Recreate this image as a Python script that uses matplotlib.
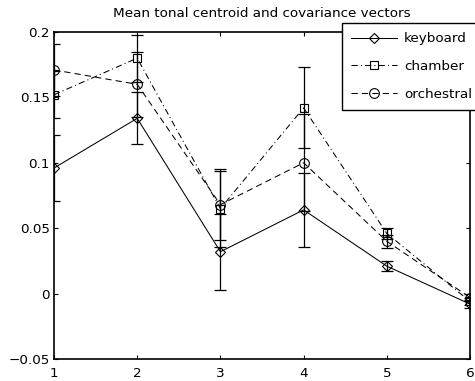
import matplotlib
matplotlib.use("Agg")
import matplotlib.pyplot as plt

plt.rcParams['font.family'] = ['DejaVu Sans']

x = [1, 2, 3, 4, 5, 6]
keyboard = [0.096, 0.134, 0.032, 0.064, 0.021, -0.008]
keyboard_err = [0.025, 0.020, 0.029, 0.028, 0.004, 0.003]
chamber = [0.152, 0.180, 0.065, 0.142, 0.046, -0.006]
chamber_err = [0.018, 0.018, 0.029, 0.031, 0.004, 0.003]
orchestral = [0.171, 0.160, 0.068, 0.100, 0.040, -0.003]
orchestral_err = [0.020, 0.025, 0.027, 0.037, 0.005, 0.003]
labels = ['keyboard', 'chamber', 'orchestral']
title = 'Mean tonal centroid and covariance vectors'

fig = plt.figure(figsize=(4.75, 3.81), dpi=100)
ax = fig.add_axes([54/475, 1-359/381, (470-54)/475, (359-32)/381])

series = [
    (keyboard, keyboard_err, '-', 'D', 5.5),
    (chamber, chamber_err, (0, (6, 3, 1, 3)), 's', 5.5),
    (orchestral, orchestral_err, (0, (6, 4)), 'o', 7),
]
handles = []
for (vals, errs, ls, mk, ms), lab in zip(series, labels):
    ax.errorbar(x, vals, yerr=errs, fmt='none', ecolor='black', elinewidth=0.9,
                capsize=4, capthick=0.9)
    h, = ax.plot(x, vals, linestyle=ls, color='black', linewidth=0.75,
                 marker=mk, markersize=ms, markerfacecolor='none',
                 markeredgecolor='black', markeredgewidth=0.8, label=lab)
    handles.append(h)

ax.set_xlim(1, 6)
ax.set_ylim(-0.05, 0.2)
ax.set_xticks([1, 2, 3, 4, 5, 6])
ax.set_yticks([-0.05, 0, 0.05, 0.1, 0.15, 0.2])
ax.set_yticklabels(['\u22120.05', '0', '0.05', '0.1', '0.15', '0.2'])
ax.tick_params(direction='in', top=True, right=True, length=3, width=0.8,
               labelsize=9.7, pad=3)
ax.tick_params(axis='x', pad=6)
for s in ax.spines.values():
    s.set_linewidth(1.2)
ax.set_title(title, fontsize=9.7, pad=11)

leg = fig.legend(handles=handles, labels=labels, loc='upper left',
                 bbox_to_anchor=(342/475, 1-23/381), borderaxespad=0,
                 fontsize=9.7, handlelength=3.4, handletextpad=0.5,
                 labelspacing=1.08, borderpad=0.7, fancybox=False,
                 framealpha=1, edgecolor='black')
leg.get_frame().set_linewidth(1.0)

fig.savefig('out.png', dpi=100)
